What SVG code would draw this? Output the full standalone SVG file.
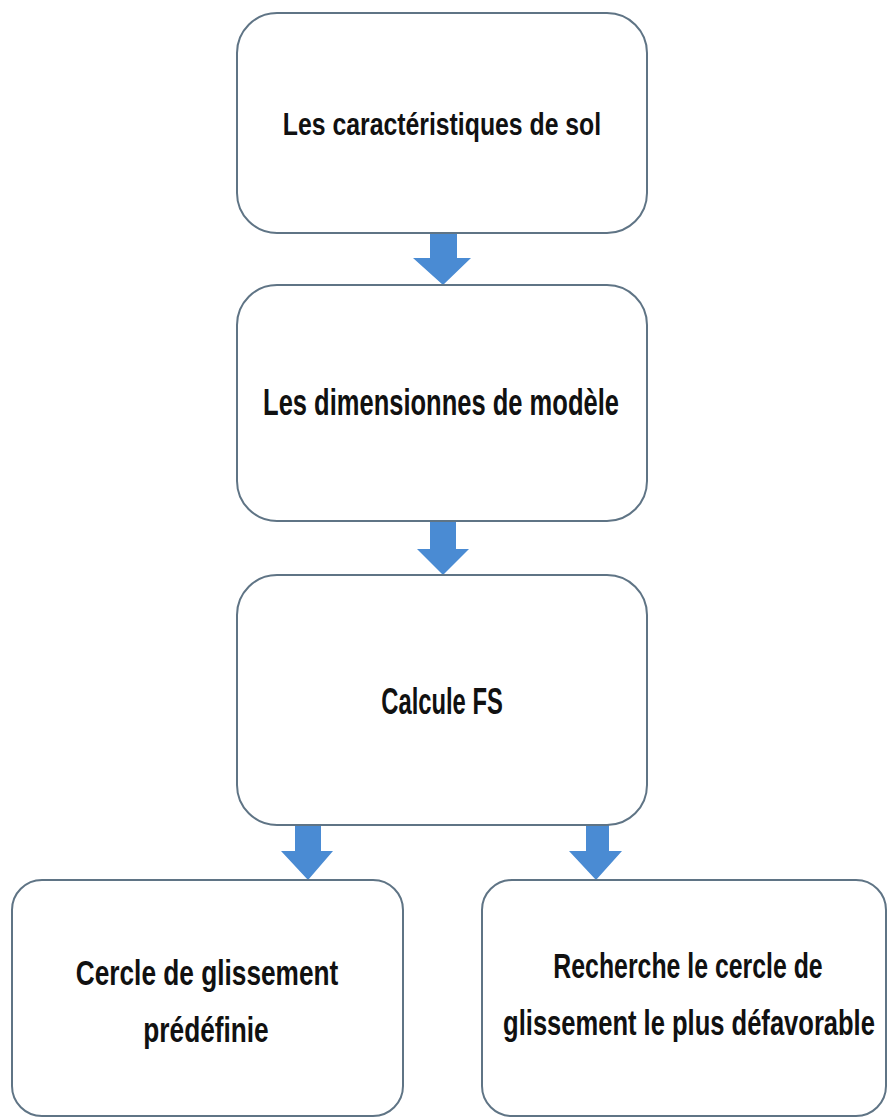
<svg xmlns="http://www.w3.org/2000/svg" width="889" height="1118" viewBox="0 0 889 1118">
  <style>
    .box { fill: #ffffff; stroke: #5f7485; stroke-width: 2; }
    .arrow { fill: #4a8bd3; }
    .lbl { font-family: "Liberation Sans", "DejaVu Sans", sans-serif; font-weight: bold; fill: #111111; text-anchor: middle; }
  </style>
  <rect x="0" y="0" width="889" height="1118" fill="#ffffff"/>
  <g id="connectors">
    <polygon class="arrow" points="430,233 457,233 457,258 471,258 443,285 413,258 430,258"/>
    <polygon class="arrow" points="430,521 456,521 456,549 469,549 443,575 417,549 430,549"/>
    <polygon class="arrow" points="295,825 321,825 321,851 333,851 308,880 281,851 295,851"/>
    <polygon class="arrow" points="586,825 609,825 609,851 622,851 596,880 569,851 586,851"/>
  </g>
  <g id="node-sol">
    <rect class="box" x="237" y="13" width="410" height="220" rx="40" ry="40"/>
    <text class="lbl" font-size="31" transform="translate(442,135) scale(0.80,1)">Les caractéristiques de sol</text>
  </g>
  <g id="node-dimensions">
    <rect class="box" x="237" y="285" width="410" height="236" rx="40" ry="40"/>
    <text class="lbl" font-size="37" transform="translate(441,415) scale(0.69,1)">Les dimensionnes de modèle</text>
  </g>
  <g id="node-fs">
    <rect class="box" x="237" y="575" width="410" height="250" rx="40" ry="40"/>
    <text class="lbl" font-size="36" transform="translate(442,714) scale(0.66,1)">Calcule FS</text>
  </g>
  <g id="node-predefinie">
    <rect class="box" x="12" y="880" width="391" height="236" rx="30" ry="30"/>
    <text class="lbl" font-size="35" transform="translate(207,985) scale(0.75,1)">Cercle de glissement</text>
    <text class="lbl" font-size="35" transform="translate(206,1042) scale(0.75,1)">prédéfinie</text>
  </g>
  <g id="node-recherche">
    <rect class="box" x="482" y="880" width="404" height="236" rx="30" ry="30"/>
    <text class="lbl" font-size="35" transform="translate(688,978) scale(0.71,1)">Recherche le cercle de</text>
    <text class="lbl" font-size="35" transform="translate(689,1035) scale(0.73,1)">glissement le plus défavorable</text>
  </g>
</svg>
